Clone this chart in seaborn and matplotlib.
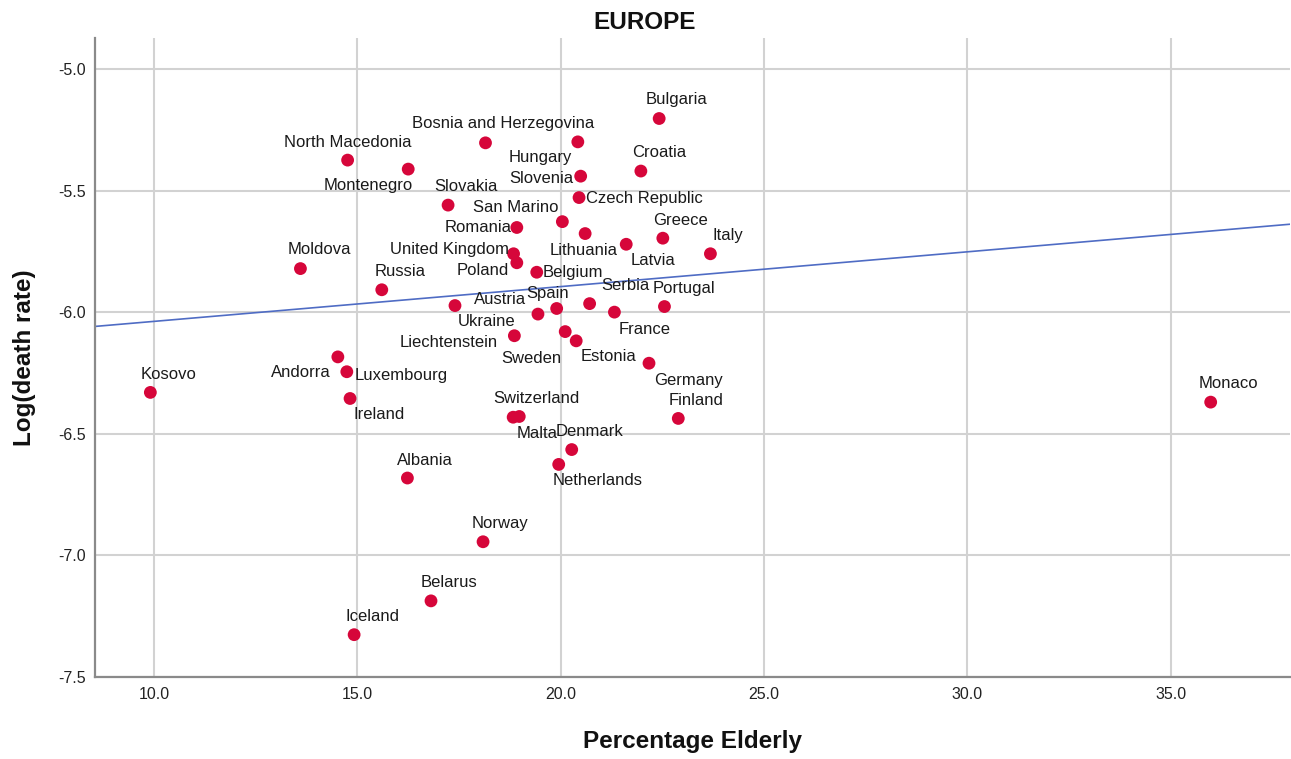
import matplotlib
matplotlib.use("Agg")
import matplotlib.pyplot as plt
import seaborn as sns
import pandas as pd

# ---- data -----------------------------------------------------------------
countries = [
    "Bulgaria", "Bosnia and Herzegovina", "Hungary", "North Macedonia",
    "Montenegro", "Slovenia", "Croatia", "Slovakia", "Czech Republic",
    "San Marino", "Romania", "Lithuania", "Latvia", "Greece", "Italy",
    "Moldova", "United Kingdom", "Poland", "Belgium", "Russia", "Austria",
    "Ukraine", "Spain", "Serbia", "France", "Portugal", "Liechtenstein",
    "Sweden", "Estonia", "Germany", "Andorra", "Luxembourg", "Ireland",
    "Kosovo", "Switzerland", "Malta", "Finland", "Denmark", "Netherlands",
    "Albania", "Norway", "Belarus", "Iceland", "Monaco",
]
pct_elderly = [
    22.42, 18.15, 20.42, 14.76,
    16.25, 20.49, 21.97, 17.23, 20.45,
    20.04, 18.92, 20.60, 21.61, 22.51, 23.68,
    13.60, 18.84, 18.92, 19.41, 15.60, 17.40,
    19.44, 19.90, 20.71, 21.32, 22.55, 18.86,
    20.11, 20.38, 22.17, 14.52, 14.74, 14.82,
    9.91, 18.83, 18.98, 22.89, 20.27, 19.95,
    16.23, 18.09, 16.81, 14.92, 35.98,
]
log_death_rate = [
    -5.204, -5.304, -5.300, -5.375,
    -5.412, -5.441, -5.420, -5.560, -5.529,
    -5.628, -5.652, -5.677, -5.721, -5.696, -5.760,
    -5.821, -5.760, -5.797, -5.836, -5.908, -5.973,
    -6.008, -5.985, -5.965, -6.000, -5.977, -6.097,
    -6.080, -6.118, -6.210, -6.184, -6.245, -6.355,
    -6.330, -6.432, -6.429, -6.437, -6.565, -6.626,
    -6.682, -6.944, -7.187, -7.326, -6.370,
]

# total fit line: log(death rate) = intercept + slope * pct elderly
fit_intercept = -6.181
fit_slope = 0.0143

x_ticks = [10.0, 15.0, 20.0, 25.0, 30.0, 35.0]
y_ticks = [-7.5, -7.0, -6.5, -6.0, -5.5, -5.0]

# ---- label placement (offset of label centre from its point, pixels) ------
label_offsets = {
    "Bulgaria": (17, 19), "Bosnia and Herzegovina": (18, 19),
    "Hungary": (-38, -16), "North Macedonia": (0, 18),
    "Montenegro": (-40, -16), "Slovenia": (-39, -2), "Croatia": (18, 19),
    "Slovakia": (18, 19), "Czech Republic": (65, -1),
    "San Marino": (-47, 14), "Romania": (-39, 0), "Lithuania": (-2, -17),
    "Latvia": (27, -16), "Greece": (18, 18), "Italy": (17, 18),
    "Moldova": (19, 19), "United Kingdom": (-64, 4), "Poland": (-34, -8),
    "Belgium": (36, 0), "Russia": (18, 18), "Austria": (45, 6),
    "Ukraine": (-51, -7), "Spain": (-9, 15), "Serbia": (36, 18),
    "France": (30, -17), "Portugal": (19, 18), "Liechtenstein": (-66, -7),
    "Sweden": (-34, -27), "Estonia": (32, -16), "Germany": (39, -17),
    "Andorra": (-37, -16), "Luxembourg": (54, -4), "Ireland": (29, -16),
    "Kosovo": (18, 18), "Switzerland": (23, 19), "Malta": (18, -17),
    "Finland": (18, 18), "Denmark": (18, 18), "Netherlands": (39, -16),
    "Albania": (18, 18), "Norway": (17, 18), "Belarus": (18, 18),
    "Iceland": (18, 18), "Monaco": (18, 19),
}

df = pd.DataFrame({
    "Country": countries,
    "Percentage Elderly": pct_elderly,
    "Log(death rate)": log_death_rate,
})

# ---- styling ----------------------------------------------------------------
sns.set_style("white")
plt.rcParams["font.family"] = ["Liberation Sans", "DejaVu Sans"]
plt.rcParams["axes.unicode_minus"] = False

W, H = 1291, 759
fig = plt.figure(figsize=(W / 100, H / 100), dpi=100)
ax = fig.add_axes([95 / W, 1 - 677 / H, 1195 / W, 639 / H])

ax.set_xlim(8.549, 37.93)
ax.set_ylim(-7.5, -4.873)
ax.set_xticks(x_ticks)
ax.set_yticks(y_ticks)
ax.set_xticklabels([f"{v:.1f}" for v in x_ticks])
ax.set_yticklabels([f"{v:.1f}" for v in y_ticks])
ax.grid(True, color="#d2d2d2", linewidth=1.5)
ax.set_axisbelow(True)

for side in ("top", "right"):
    ax.spines[side].set_visible(False)
for side in ("left", "bottom"):
    ax.spines[side].set_color("#8a8a8a")
    ax.spines[side].set_linewidth(1.6)

ax.tick_params(axis="both", length=0, labelsize=11.5, labelcolor="#222222")
ax.tick_params(axis="x", pad=7.2)
ax.tick_params(axis="y", pad=6.5)

# fit line
ax.axline((0, fit_intercept), slope=fit_slope, color="#4f6cc4",
          linewidth=1.2, zorder=2)

# points
sns.scatterplot(data=df, x="Percentage Elderly", y="Log(death rate)",
                s=85, color="#d6063a", edgecolor="none", linewidth=0,
                zorder=3, ax=ax, legend=False)

# point labels
for name, xv, yv in zip(countries, pct_elderly, log_death_rate):
    dx, dy = label_offsets[name]
    ax.annotate(name, (xv, yv), xytext=(dx, dy), textcoords="offset pixels",
                ha="center", va="center", fontsize=12, color="#1a1a1a",
                zorder=4)

# axis titles and chart title
ax.set_xlabel("Percentage Elderly", fontsize=17.5, fontweight="bold",
              color="#111111", va="baseline")
ax.xaxis.set_label_coords(0.5, (677 - 748) / 639)
ax.set_ylabel("Log(death rate)", fontsize=17.5, fontweight="bold",
              color="#111111", va="center")
ax.yaxis.set_label_coords((24.5 - 95) / 1195, 0.5)

fig.text(645 / W, 1 - 29 / H, "EUROPE", ha="center", va="baseline",
         fontsize=17.5, fontweight="bold", color="#111111")

fig.savefig("out.png", dpi=100, facecolor="white")
